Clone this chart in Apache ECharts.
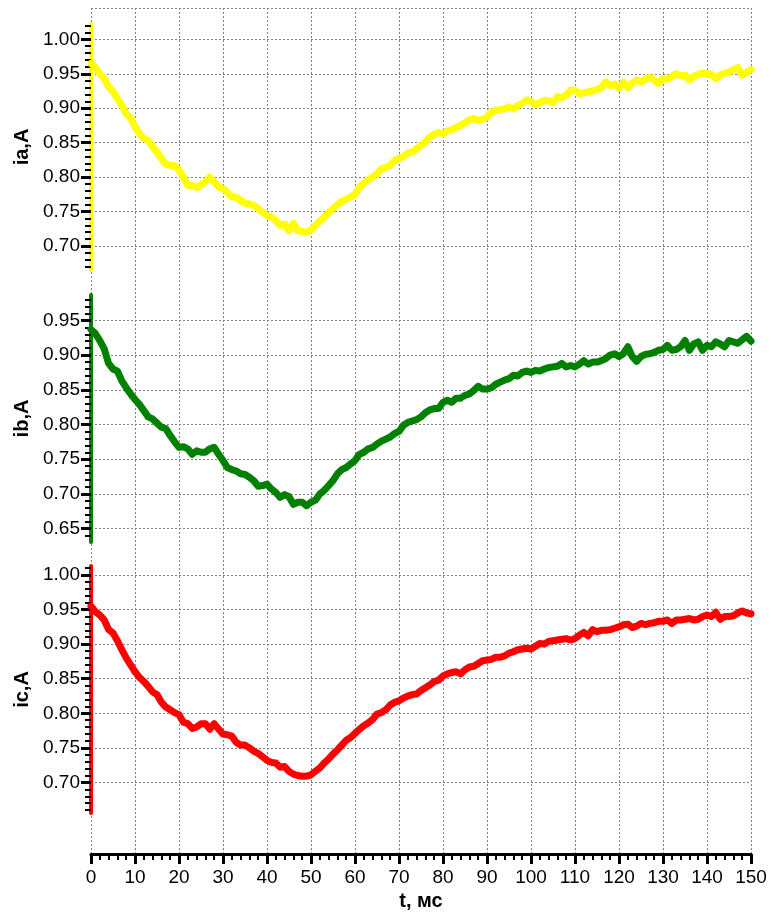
<!DOCTYPE html>
<html><head><meta charset="utf-8">
<script src="https://cdn.jsdelivr.net/npm/echarts@6/dist/echarts.min.js"></script>
<style>html,body{margin:0;padding:0;background:#fff}#c{width:771px;height:917px}</style>
</head><body><div id="c"></div>
<script>
// time samples, ms
const tMs = Array.from({length:151}, (_, i) => i);
const xTicks = [0,10,20,30,40,50,60,70,80,90,100,110,120,130,140,150];

const ia = [0.965,0.959,0.950,0.943,0.931,0.924,0.914,0.904,0.892,0.886,
0.873,0.863,0.856,0.853,0.844,0.836,0.827,0.819,0.817,0.817,
0.810,0.800,0.788,0.788,0.785,0.789,0.793,0.800,0.793,0.786,
0.783,0.778,0.771,0.771,0.766,0.762,0.761,0.759,0.754,0.749,
0.744,0.742,0.737,0.730,0.732,0.722,0.733,0.722,0.721,0.720,
0.723,0.730,0.736,0.742,0.748,0.754,0.760,0.765,0.768,0.771,
0.775,0.785,0.791,0.796,0.800,0.805,0.812,0.814,0.817,0.824,
0.827,0.830,0.835,0.836,0.841,0.846,0.851,0.858,0.862,0.865,
0.863,0.867,0.869,0.872,0.875,0.879,0.883,0.885,0.882,0.884,
0.887,0.894,0.897,0.898,0.899,0.902,0.899,0.904,0.907,0.912,
0.910,0.905,0.908,0.911,0.911,0.908,0.917,0.915,0.919,0.926,
0.926,0.921,0.922,0.924,0.925,0.927,0.930,0.938,0.933,0.935,
0.929,0.938,0.930,0.936,0.941,0.938,0.942,0.945,0.941,0.936,
0.943,0.942,0.946,0.950,0.947,0.948,0.941,0.946,0.949,0.951,
0.950,0.949,0.943,0.948,0.951,0.952,0.956,0.959,0.948,0.952,0.956];

const ib = [0.937,0.931,0.921,0.909,0.888,0.880,0.877,0.863,0.853,0.844,
0.836,0.829,0.820,0.811,0.808,0.802,0.796,0.794,0.784,0.775,
0.767,0.768,0.765,0.757,0.762,0.760,0.760,0.765,0.767,0.757,
0.748,0.738,0.735,0.733,0.729,0.728,0.724,0.719,0.711,0.712,
0.714,0.707,0.702,0.695,0.699,0.696,0.685,0.688,0.688,0.683,
0.688,0.691,0.700,0.705,0.712,0.719,0.729,0.735,0.738,0.743,
0.748,0.757,0.760,0.765,0.767,0.772,0.776,0.779,0.782,0.787,
0.790,0.799,0.803,0.805,0.807,0.811,0.817,0.821,0.823,0.823,
0.832,0.835,0.832,0.838,0.838,0.842,0.844,0.849,0.855,0.851,
0.851,0.853,0.858,0.861,0.864,0.866,0.871,0.870,0.875,0.877,
0.875,0.878,0.877,0.880,0.882,0.883,0.884,0.888,0.883,0.885,
0.883,0.887,0.892,0.887,0.890,0.890,0.892,0.895,0.900,0.902,
0.898,0.902,0.912,0.898,0.891,0.898,0.901,0.902,0.904,0.907,
0.908,0.914,0.907,0.908,0.912,0.921,0.907,0.916,0.919,0.907,
0.914,0.912,0.919,0.916,0.912,0.921,0.919,0.917,0.922,0.927,0.920];

const ic = [0.955,0.947,0.942,0.935,0.921,0.916,0.905,0.892,0.880,0.870,
0.860,0.852,0.846,0.839,0.831,0.827,0.816,0.809,0.805,0.801,
0.798,0.787,0.785,0.778,0.780,0.785,0.785,0.777,0.785,0.777,
0.770,0.769,0.767,0.758,0.754,0.754,0.750,0.745,0.742,0.737,
0.732,0.729,0.728,0.722,0.723,0.716,0.712,0.710,0.709,0.709,
0.711,0.716,0.721,0.728,0.734,0.741,0.747,0.754,0.761,0.765,
0.771,0.777,0.782,0.786,0.791,0.799,0.801,0.805,0.812,0.816,
0.818,0.822,0.825,0.827,0.828,0.833,0.837,0.841,0.846,0.848,
0.854,0.857,0.859,0.860,0.857,0.863,0.867,0.868,0.872,0.876,
0.877,0.878,0.881,0.881,0.883,0.887,0.889,0.892,0.893,0.894,
0.893,0.897,0.901,0.900,0.904,0.905,0.906,0.907,0.908,0.906,
0.908,0.913,0.917,0.912,0.921,0.918,0.920,0.920,0.921,0.923,
0.925,0.928,0.929,0.924,0.926,0.930,0.928,0.930,0.931,0.933,
0.933,0.935,0.930,0.935,0.935,0.936,0.937,0.935,0.936,0.940,
0.942,0.940,0.946,0.936,0.940,0.940,0.941,0.945,0.948,0.945,0.944];

const iaTicks = [0.70,0.75,0.80,0.85,0.90,0.95,1.00];
const ibTicks = [0.65,0.70,0.75,0.80,0.85,0.90,0.95];
const icTicks = [0.70,0.75,0.80,0.85,0.90,0.95,1.00];

const panels = [
  {name:'ia,A', data: ia, ticks: iaTicks, color:'#ffff00', min:0.6652, max:1.0222, top:24, height:246},
  {name:'ib,A', data: ib, ticks: ibTicks, color:'#008000', min:0.6307, max:0.9866, top:295, height:247},
  {name:'ic,A', data: ic, ticks: icTicks, color:'#ff0000', min:0.6558, max:1.0130, top:566, height:247}
];

const FONT = 'Liberation Sans';
const gridLine = {show:true, lineStyle:{color:'#808080', type:[2,2], width:1}};

const grids = [], xAxes = [], yAxes = [], series = [];
panels.forEach((p, i) => {
  grids.push({left:91, right:20, top:p.top, height:p.height});
  xAxes.push({type:'value', gridIndex:i, min:0, max:150, show:false});
  const minors = [];
  for (let k = Math.ceil(p.min*100); k <= Math.floor(p.max*100); k++) minors.push(k/100);
  yAxes.push({
    type:'value', gridIndex:i, position:'left', offset:0, min:p.min, max:p.max,
    name:p.name, nameLocation:'middle', nameGap:55, nameRotate:90,
    nameTextStyle:{fontFamily:FONT, fontWeight:'bold', fontSize:20, color:'#000'},
    axisLine:{show:true, lineStyle:{color:p.color, width:4}},
    axisTick:{show:true, inside:false, length:10, customValues:p.ticks, lineStyle:{color:'#000', width:3}},
    axisLabel:{show:true, margin:11, customValues:p.ticks, formatter:v=>v.toFixed(2),
      fontFamily:FONT, fontSize:19, color:'#000'},
    splitLine:gridLine
  });
  yAxes.push({
    type:'value', gridIndex:i, position:'left', offset:0, min:p.min, max:p.max,
    axisLine:{show:false},
    axisTick:{show:true, inside:false, length:6, customValues:minors, lineStyle:{color:'#000', width:2}},
    axisLabel:{show:false}, splitLine:{show:false}
  });
  series.push({
    type:'line', xAxisIndex:i, yAxisIndex:i*2, showSymbol:false, symbol:'none',
    data: tMs.map((t, j) => [t, p.data[j]]),
    lineStyle:{color:p.color, width:7, join:'round', cap:'round'},
    z:3, silent:true, animation:false
  });
});

grids.push({left:91, right:20, top:8, height:846});
xAxes.push({
  type:'value', gridIndex:3, min:0, max:150, interval:10, position:'bottom',
  name:'t, мс', nameLocation:'middle', nameGap:37,
  nameTextStyle:{fontFamily:FONT, fontWeight:'bold', fontSize:20, color:'#000'},
  axisLine:{show:true, lineStyle:{color:'#000', width:3}},
  axisTick:{show:true, inside:false, length:10, lineStyle:{color:'#000', width:3}},
  minorTick:{show:true, splitNumber:5, length:6, lineStyle:{color:'#000', width:2}},
  axisLabel:{show:true, margin:14, customValues:xTicks, fontFamily:FONT, fontSize:19, color:'#000'},
  splitLine:gridLine
});
yAxes.push({
  type:'value', gridIndex:3, min:0, max:1, interval:1,
  axisLine:{show:false}, axisTick:{show:false}, axisLabel:{show:false},
  splitLine:gridLine
});

const chart = echarts.init(document.getElementById('c'), null, {renderer:'canvas'});
chart.setOption({
  animation:false,
  backgroundColor:'#ffffff',
  grid:grids, xAxis:xAxes, yAxis:yAxes, series:series
});
</script></body></html>
